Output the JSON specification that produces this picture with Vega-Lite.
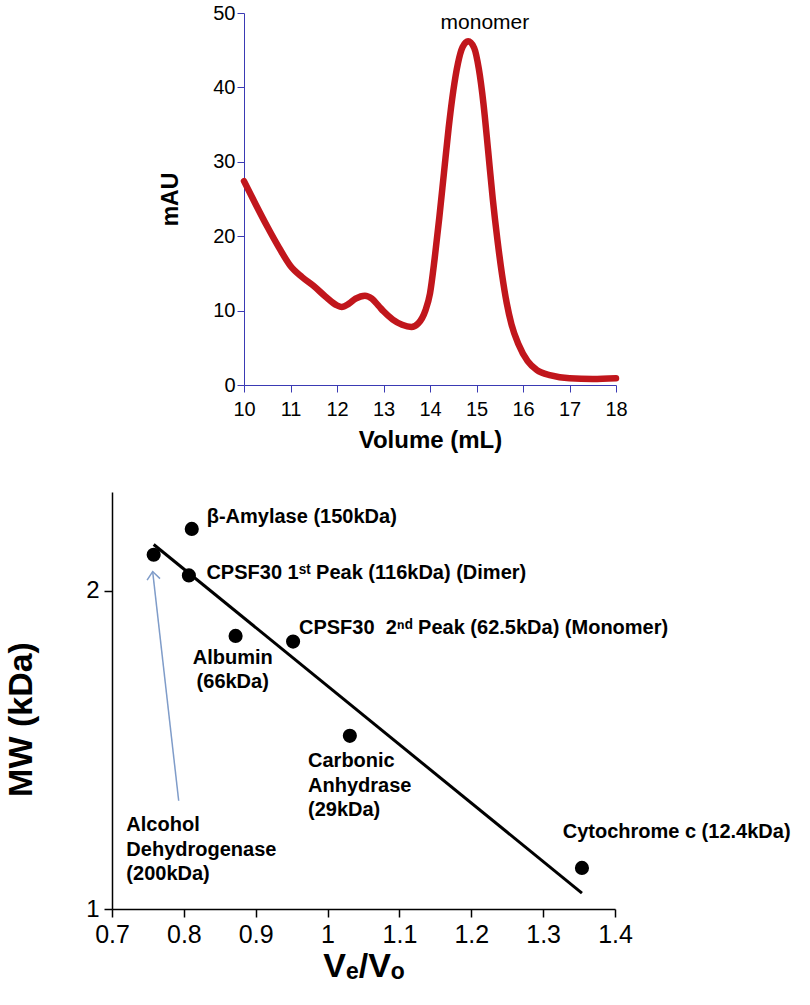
{
  "$schema": "https://vega.github.io/schema/vega-lite/v6.json",
  "padding": {"left": 0, "top": 3, "right": 0, "bottom": 0},
  "width": 504,
  "height": 896,
  "config": {
    "view": {"stroke": null},
    "font": "Liberation Sans",
    "axis": {"grid": false, "labelFlush": false, "labelColor": "#000000", "titleColor": "#000000", "labelFont": "Liberation Sans", "titleFont": "Liberation Sans"}
  },
  "resolve": {"scale": {"x": "independent", "y": "independent"}, "axis": {"x": "independent", "y": "independent"}},
  "layer": [
    {
      "encoding": {
        "x": {"field": "volume", "type": "quantitative",
          "scale": {"domain": [10, 18], "nice": false, "zero": false, "range": [132, 504]},
          "axis": {"orient": "bottom", "offset": -524, "title": "Volume (mL)", "values": [10, 11, 12, 13, 14, 15, 16, 17, 18],
            "domainColor": "#3a3ab4", "tickColor": "#3a3ab4", "tickSize": 7, "labelFontSize": 20,
            "labelPadding": 7, "titleFontSize": 24, "titleFontWeight": "bold", "titlePadding": 9}},
        "y": {"field": "mAU", "type": "quantitative",
          "scale": {"domain": [0, 50], "nice": false, "zero": false, "range": [372, 0]},
          "axis": {"orient": "left", "offset": -132, "title": "mAU", "values": [0, 10, 20, 30, 40, 50],
            "domainColor": "#3a3ab4", "tickColor": "#3a3ab4", "tickSize": 7, "labelFontSize": 20,
            "labelPadding": 2, "titleFontSize": 23, "titleFontWeight": "bold",
            "titleX": -74, "titleBaseline": "middle"}}
      },
      "layer": [
        {
          "data": {"values": [
            {"volume": 10.0, "mAU": 27.4}, {"volume": 10.25, "mAU": 24.3}, {"volume": 10.5, "mAU": 21.3},
            {"volume": 10.75, "mAU": 18.5}, {"volume": 11.0, "mAU": 16.0}, {"volume": 11.25, "mAU": 14.5},
            {"volume": 11.5, "mAU": 13.3}, {"volume": 11.75, "mAU": 11.9}, {"volume": 12.0, "mAU": 10.7},
            {"volume": 12.1, "mAU": 10.5}, {"volume": 12.25, "mAU": 10.9}, {"volume": 12.4, "mAU": 11.6},
            {"volume": 12.6, "mAU": 12.0}, {"volume": 12.75, "mAU": 11.6}, {"volume": 12.9, "mAU": 10.6},
            {"volume": 13.0, "mAU": 9.9}, {"volume": 13.2, "mAU": 8.8}, {"volume": 13.4, "mAU": 8.1},
            {"volume": 13.6, "mAU": 7.8}, {"volume": 13.75, "mAU": 8.3}, {"volume": 13.9, "mAU": 10.0},
            {"volume": 14.0, "mAU": 12.3}, {"volume": 14.1, "mAU": 17.0}, {"volume": 14.2, "mAU": 22.5},
            {"volume": 14.3, "mAU": 28.5}, {"volume": 14.4, "mAU": 34.5}, {"volume": 14.5, "mAU": 39.5},
            {"volume": 14.6, "mAU": 43.2}, {"volume": 14.7, "mAU": 45.4}, {"volume": 14.82, "mAU": 46.2},
            {"volume": 14.95, "mAU": 45.3}, {"volume": 15.05, "mAU": 42.5}, {"volume": 15.15, "mAU": 37.8},
            {"volume": 15.25, "mAU": 31.5}, {"volume": 15.35, "mAU": 25.0}, {"volume": 15.45, "mAU": 19.5},
            {"volume": 15.55, "mAU": 14.8}, {"volume": 15.65, "mAU": 11.0}, {"volume": 15.75, "mAU": 8.2},
            {"volume": 15.9, "mAU": 5.5}, {"volume": 16.1, "mAU": 3.2}, {"volume": 16.3, "mAU": 2.0},
            {"volume": 16.6, "mAU": 1.3}, {"volume": 17.0, "mAU": 0.9}, {"volume": 17.5, "mAU": 0.8},
            {"volume": 18.0, "mAU": 0.9}
          ]},
          "mark": {"type": "line", "color": "#c1161c", "strokeWidth": 6.5, "interpolate": "monotone", "strokeCap": "round", "strokeJoin": "round"}
        },
        {
          "data": {"values": [{"volume": 15.18, "mAU": 48.7, "label": "monomer"}]},
          "mark": {"type": "text", "fontSize": 21, "align": "center", "baseline": "middle", "color": "#000000"},
          "encoding": {"text": {"field": "label"}}
        }
      ]
    },
    {
      "encoding": {
        "x": {"field": "x", "type": "quantitative",
          "scale": {"domain": [0.7, 1.4], "nice": false, "zero": false, "range": [0, 503]},
          "axis": {"orient": "bottom", "title": "Vₑ/Vₒ", "values": [0.7, 0.8, 0.9, 1.0, 1.1, 1.2, 1.3, 1.4], "format": "~g",
            "domainColor": "#000000", "tickColor": "#000000", "domainWidth": 1.5, "tickWidth": 1.5, "tickSize": 8,
            "labelFontSize": 25, "labelPadding": 5, "titleFontSize": 34, "titleFontWeight": "bold", "titlePadding": 2}},
        "y": {"field": "y", "type": "quantitative",
          "scale": {"domain": [1, 2.31], "nice": false, "zero": false, "range": [896, 479]},
          "axis": {"orient": "left", "title": "MW (kDa)", "values": [1, 2], "format": "~g",
            "domainColor": "#000000", "tickColor": "#000000", "domainWidth": 1.5, "tickWidth": 1.5, "tickSize": 8,
            "labelFontSize": 24, "labelPadding": 5, "titleFontSize": 34, "titleFontWeight": "bold",
            "minExtent": 112, "titleX": -91, "titleY": 706, "titleBaseline": "middle"}}
      },
      "layer": [
        {
          "data": {"values": [{"x": 0.758, "y": 2.145, "x2": 1.354, "y2": 1.05}]},
          "mark": {"type": "rule", "color": "#000000", "strokeWidth": 3},
          "encoding": {"x2": {"field": "x2"}, "y2": {"field": "y2"}}
        },
        {
          "data": {"values": [{"x": 0.7928, "y": 1.34, "x2": 0.7566, "y2": 2.06}]},
          "mark": {"type": "rule", "color": "#7f9cc9", "strokeWidth": 1.5},
          "encoding": {"x2": {"field": "x2"}, "y2": {"field": "y2"}}
        },
        {
          "data": {"values": [{"x": 0.7566, "y": 2.06}]},
          "mark": {"type": "point", "shape": "M-1,1.2L0,0L1,1.2", "filled": false, "size": 169, "angle": -6.5, "stroke": "#7f9cc9", "strokeWidth": 1.5, "opacity": 1}
        },
        {
          "data": {"values": [
            {"name": "β-Amylase", "x": 0.811, "y": 2.194},
            {"name": "Alcohol Dehydrogenase", "x": 0.758, "y": 2.113},
            {"name": "CPSF30 1st Peak", "x": 0.807, "y": 2.048},
            {"name": "Albumin", "x": 0.872, "y": 1.858},
            {"name": "CPSF30 2nd Peak", "x": 0.952, "y": 1.84},
            {"name": "Carbonic Anhydrase", "x": 1.031, "y": 1.544},
            {"name": "Cytochrome c", "x": 1.354, "y": 1.129}
          ]},
          "mark": {"type": "circle", "size": 200, "color": "#000000", "opacity": 1}
        },
        {
          "data": {"values": [
            {"label": "β-Amylase (150kDa)", "x": 0.8318, "y": 2.264},
            {"label": "CPSF30 1ˢᵗ Peak (116kDa) (Dimer)", "x": 0.8314, "y": 2.088},
            {"label": "CPSF30\u00a0 2ⁿᵈ Peak (62.5kDa) (Monomer)", "x": 0.9602, "y": 1.913},
            {"label": "Carbonic\nAnhydrase\n(29kDa)", "x": 0.9728, "y": 1.495},
            {"label": "Cytochrome c (12.4kDa)", "x": 1.3272, "y": 1.273},
            {"label": "Alcohol\nDehydrogenase\n(200kDa)", "x": 0.72, "y": 1.295}
          ]},
          "mark": {"type": "text", "align": "left", "baseline": "top", "fontSize": 20, "fontWeight": "bold", "lineBreak": "\n", "lineHeight": 24.5, "color": "#000000"},
          "encoding": {"text": {"field": "label"}}
        },
        {
          "data": {"values": [
            {"label": "Albumin\n(66kDa)", "x": 0.868, "y": 1.821}
          ]},
          "mark": {"type": "text", "align": "center", "baseline": "top", "fontSize": 20, "fontWeight": "bold", "lineBreak": "\n", "lineHeight": 24.5, "color": "#000000"},
          "encoding": {"text": {"field": "label"}}
        }
      ]
    }
  ]
}
